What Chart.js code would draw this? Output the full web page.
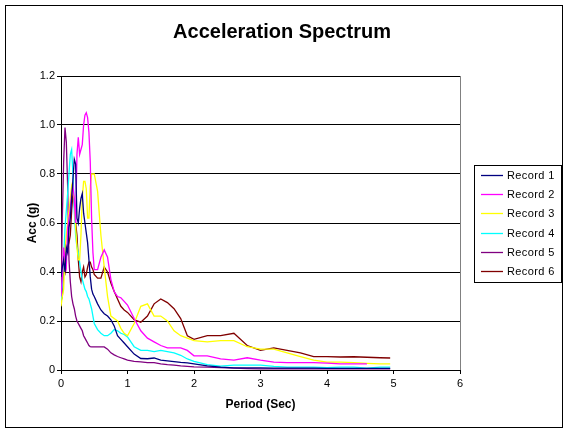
<!DOCTYPE html>
<html><head><meta charset="utf-8">
<script src="https://cdn.jsdelivr.net/npm/chart.js@4.4.0/dist/chart.umd.min.js"></script>
<style>html,body{margin:0;padding:0;background:#fff;}canvas{display:block;}</style>
</head><body>
<canvas id="c" width="567" height="433"></canvas>
<script>
const periods = [0,0.02,0.04,0.06,0.08,0.1,0.12,0.14,0.16,0.18,
 0.2,0.22,0.24,0.26,0.28,0.3,0.32,0.34,0.36,0.38,
 0.4,0.42,0.44,0.46,0.48,0.5,0.55,0.6,0.65,0.7,
 0.75,0.8,0.85,0.9,0.95,1.0,1.1,1.2,1.3,1.4,
 1.5,1.6,1.7,1.8,1.9,2.0,2.2,2.4,2.6,2.8,
 3.0,3.2,3.4,3.6,3.8,4.0,4.2,4.4,4.6,4.8,
 4.95];
const record1 = [0.38,0.42,0.45,0.40,0.50,0.48,0.58,0.62,0.70,0.78,
 0.86,0.84,0.62,0.60,0.66,0.70,0.72,0.64,0.60,0.56,
 0.52,0.45,0.38,0.33,0.31,0.30,0.27,0.245,0.23,0.22,
 0.205,0.18,0.14,0.125,0.11,0.095,0.065,0.047,0.046,0.049,
 0.04,0.037,0.034,0.031,0.029,0.025,0.017,0.012,0.009,0.009,
 0.009,0.008,0.008,0.008,0.008,0.007,0.007,0.007,0.007,0.007,
 0.007];
const record2 = [0.30,0.38,0.50,0.45,0.42,0.58,0.62,0.66,0.72,0.75,
 0.70,0.60,0.88,0.95,0.88,0.90,0.92,1.00,1.04,1.05,
 1.03,0.97,0.85,0.62,0.48,0.41,0.41,0.46,0.49,0.46,
 0.37,0.32,0.30,0.295,0.28,0.265,0.21,0.16,0.13,0.115,
 0.10,0.09,0.09,0.09,0.08,0.058,0.058,0.045,0.04,0.05,
 0.04,0.032,0.03,0.03,0.03,0.028,0.025,0.025,0.025,null,
 null];
const record3 = [0.26,0.30,0.33,0.49,0.55,0.60,0.65,0.70,0.75,0.72,
 0.70,0.58,0.50,0.45,0.45,0.55,0.70,0.77,0.77,0.74,
 0.62,0.62,0.75,0.80,0.80,0.80,0.73,0.55,0.42,0.30,
 0.22,0.21,0.20,0.17,0.15,0.14,0.19,0.26,0.27,0.22,
 0.22,0.20,0.16,0.14,0.13,0.12,0.115,0.12,0.12,0.095,
 0.085,0.085,0.07,0.055,0.04,0.032,0.032,0.03,0.027,0.025,
 0.025];
const record4 = [0.27,0.35,0.45,0.58,0.65,0.72,0.80,0.88,0.90,0.80,
 0.65,0.55,0.50,0.48,0.44,0.40,0.37,0.35,0.33,0.32,
 0.30,0.29,0.27,0.25,0.22,0.19,0.165,0.15,0.14,0.14,
 0.15,0.165,0.16,0.15,0.145,0.135,0.095,0.08,0.08,0.075,
 0.08,0.075,0.07,0.06,0.045,0.035,0.022,0.016,0.02,0.02,
 0.02,0.015,0.012,0.012,0.012,0.01,0.012,0.012,0.008,0.012,
 0.012];
const record5 = [0.30,0.62,0.85,0.99,0.93,0.75,0.45,0.36,0.30,0.27,
 0.25,0.22,0.20,0.19,0.18,0.17,0.16,0.14,0.13,0.12,
 0.11,0.10,0.095,0.094,0.094,0.094,0.094,0.094,0.094,0.085,
 0.07,0.062,0.055,0.05,0.045,0.04,0.035,0.033,0.03,0.03,
 0.025,0.022,0.02,0.017,0.015,0.013,0.012,0.01,0.008,0.006,
 0.005,0.005,0.005,0.005,0.005,0.005,0.005,0.005,0.005,0.005,
 0.005];
const record6 = [0.28,0.30,0.42,0.40,0.48,0.50,0.52,0.55,0.65,0.72,
 0.68,0.60,0.55,0.45,0.38,0.36,0.40,0.42,0.38,0.39,
 0.42,0.44,0.44,0.42,0.41,0.39,0.375,0.375,0.42,0.40,
 0.355,0.32,0.29,0.26,0.245,0.235,0.205,0.195,0.22,0.27,
 0.29,0.275,0.25,0.21,0.14,0.125,0.14,0.14,0.15,0.10,
 0.08,0.09,0.08,0.07,0.055,0.055,0.053,0.054,0.052,0.05,
 0.049];
const seriesNames = ['Record 1','Record 2','Record 3','Record 4','Record 5','Record 6'];
const seriesValues = [record1, record2, record3, record4, record5, record6];
const seriesColors = ['#000080','#FF00FF','#FFFF00','#00FFFF','#800080','#800000'];
const xTickValues = [0,1,2,3,4,5,6];
const yTickValues = [0,0.2,0.4,0.6,0.8,1,1.2];

const FONT = "Arial, 'Liberation Sans', sans-serif";
Chart.defaults.font.family = FONT;
Chart.defaults.color = '#000';

const datasets = seriesNames.map((name, i) => ({
  label: name,
  data: periods.map((t, j) => ({x: t, y: seriesValues[i][j]})),
  borderColor: seriesColors[i],
  backgroundColor: seriesColors[i],
  borderWidth: 1.3,
  pointRadius: 0,
  fill: false,
  tension: 0,
  spanGaps: false,
  yAxisID: 'y'
}));

const framePlugin = {
  id: 'frame',
  beforeDraw(chart) {
    const {ctx, chartArea: a} = chart;
    ctx.save();
    ctx.fillStyle = '#fff';
    ctx.fillRect(0, 0, chart.width, chart.height);
    ctx.strokeStyle = '#000';
    ctx.lineWidth = 1;
    ctx.strokeRect(5.5, 5.5, 557, 422);
    ctx.strokeStyle = '#808080';
    ctx.strokeRect(Math.round(a.left) + 0.5, Math.round(a.top) + 0.5,
      Math.round(a.right - a.left), Math.round(a.bottom - a.top));
    ctx.restore();
  },
  afterDraw(chart) {
    const ctx = chart.ctx;
    ctx.save();
    const lx = 474, ly = 165, lw = 87, lh = 117;
    ctx.fillStyle = '#fff';
    ctx.fillRect(lx, ly, lw, lh);
    ctx.strokeStyle = '#000';
    ctx.lineWidth = 1;
    ctx.strokeRect(lx + 0.5, ly + 0.5, lw, lh);
    ctx.font = '11px ' + FONT;
    ctx.textBaseline = 'middle';
    ctx.textAlign = 'left';
    if ('letterSpacing' in ctx) ctx.letterSpacing = '0.4px';
    chart.data.datasets.forEach((ds, i) => {
      const y = Math.round(175 + i * 19.2) + 0.5;
      ctx.strokeStyle = ds.borderColor;
      ctx.lineWidth = 1.3;
      ctx.beginPath();
      ctx.moveTo(481, y);
      ctx.lineTo(503, y);
      ctx.stroke();
      ctx.fillStyle = '#000';
      ctx.fillText(ds.label, 507, y + 0.5);
    });
    ctx.restore();
  }
};

new Chart(document.getElementById('c'), {
  type: 'line',
  data: {datasets},
  plugins: [framePlugin],
  options: {
    responsive: false,
    animation: false,
    devicePixelRatio: 1,
    layout: {padding: {left: 5, right: 8, top: 5, bottom: 10}},
    plugins: {
      legend: {display: false},
      tooltip: {enabled: false},
      title: {
        display: true,
        text: 'Acceleration Spectrum',
        color: '#000',
        font: {size: 20, weight: 'bold', family: FONT},
        padding: {top: 15, bottom: 32}
      }
    },
    scales: {
      x: {
        type: 'linear',
        min: 0, max: 6,
        afterFit(scale) { scale.height = 53; },
        afterBuildTicks(scale) { scale.ticks = xTickValues.map(v => ({value: v})); },
        ticks: {font: {size: 11}, padding: 3, color: '#000', maxRotation: 0},
        grid: {drawOnChartArea: false, drawTicks: true, tickLength: 4, color: '#000', lineWidth: 1},
        border: {display: true, color: '#000', width: 1},
        title: {display: true, text: 'Period (Sec)', color: '#000',
          font: {size: 12, weight: 'bold'}, padding: {top: 0, bottom: 10.8}}
      },
      y: {
        type: 'linear',
        position: 'left',
        min: 0, max: 1.2,
        afterFit(scale) { scale.width = 56; },
        afterBuildTicks(scale) { scale.ticks = yTickValues.map(v => ({value: v})); },
        ticks: {font: {size: 11}, padding: 2, color: '#000'},
        grid: {drawOnChartArea: true, drawTicks: true, tickLength: 4, color: '#000', lineWidth: 1},
        border: {display: true, color: '#000', width: 1},
        title: {display: true, text: 'Acc (g)', color: '#000',
          font: {size: 12, weight: 'bold'}, padding: {top: 20.8, bottom: 0}}
      },
      legendSpace: {
        type: 'linear',
        position: 'right',
        display: true,
        min: 0, max: 1,
        afterFit(scale) { scale.width = 99; },
        ticks: {display: false},
        grid: {display: false, drawTicks: false},
        border: {display: false},
        title: {display: false}
      }
    }
  }
});
</script>
</body></html>
